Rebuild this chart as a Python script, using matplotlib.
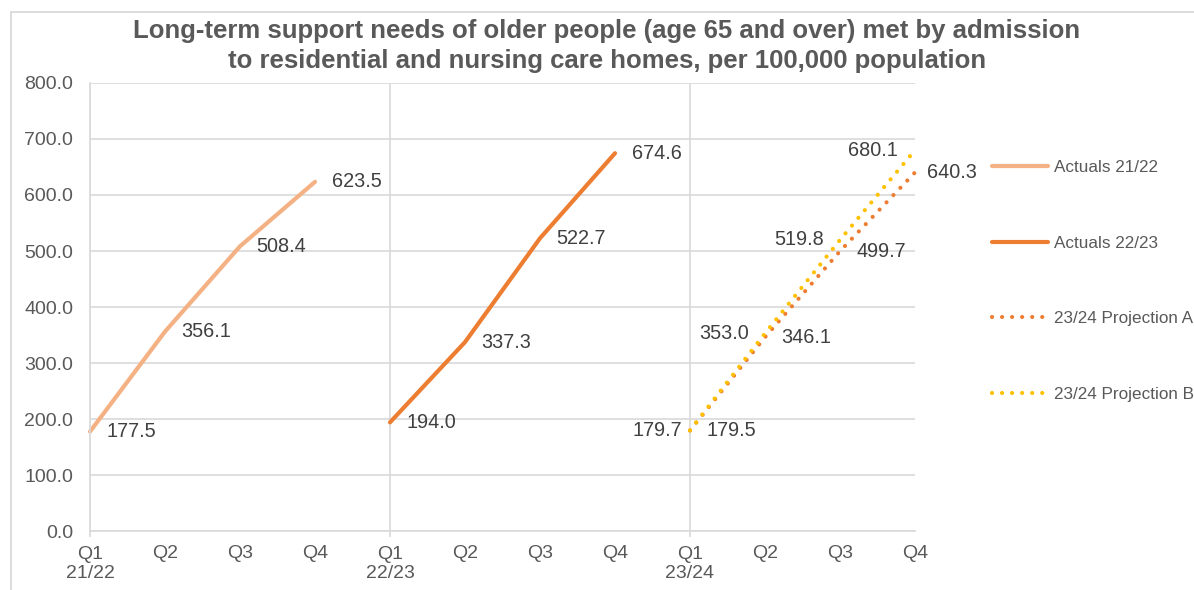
import matplotlib
matplotlib.use('Agg')
import matplotlib.pyplot as plt
from matplotlib.patches import Rectangle
from matplotlib.ticker import FixedLocator, FuncFormatter

plt.rcParams['font.family'] = ['Liberation Sans', 'DejaVu Sans']

# data
quarters = ['Q1', 'Q2', 'Q3', 'Q4']
years = ['21/22', '22/23', '23/24']
actuals_2122 = [177.5, 356.1, 508.4, 623.5]
actuals_2223 = [194.0, 337.3, 522.7, 674.6]
proj_a = [179.5, 346.1, 499.7, 640.3]
proj_b = [179.7, 353.0, 519.8, 680.1]

TXT = '#595959'
LBL = '#404040'
GRID = '#d9d9d9'

W, H = 1194, 590
fig = plt.figure(figsize=(W / 100, H / 100), dpi=100)
ax = fig.add_axes([90 / W, 1 - 531 / H, 825 / W, 448 / H])

# outer chart frame (runs off the right / bottom of the crop)
fig.add_artist(Rectangle((11 / W, -0.1), 1.2, 1.1 - 12 / H, transform=fig.transFigure,
                         fill=False, edgecolor=GRID, lw=1.3, clip_on=False))

x21 = [0, 1, 2, 3]
x22 = [4, 5, 6, 7]
x23 = [8, 9, 10, 11]

dot = (0, (0.01, 2.4))
l1, = ax.plot(x21, actuals_2122, color='#F4B183', lw=3, solid_capstyle='round',
              clip_on=False, label='Actuals 21/22')
l2, = ax.plot(x22, actuals_2223, color='#ED7D31', lw=3, solid_capstyle='round',
              clip_on=False, label='Actuals 22/23')
l3, = ax.plot(x23, proj_a, color='#ED7D31', lw=3, linestyle=dot, dash_capstyle='round',
              clip_on=False, label='23/24 Projection A')
l4, = ax.plot(x23, proj_b, color='#FFC000', lw=3, linestyle=dot, dash_capstyle='round',
              clip_on=False, label='23/24 Projection B')


def put_labels(xs, vals, side, offs):
    for x, v, d in zip(xs, vals, offs):
        if side == 'r':
            ax.annotate('%.1f' % v, (x, v), xytext=(d, 0), textcoords='offset points',
                        ha='left', va='center', fontsize=14.3, color=LBL, annotation_clip=False)
        else:
            ax.annotate('%.1f' % v, (x, v), xytext=(-d, 0), textcoords='offset points',
                        ha='right', va='center', fontsize=14.3, color=LBL, annotation_clip=False)


put_labels(x21, actuals_2122, 'r', [12, 12, 12, 12])
put_labels(x22, actuals_2223, 'r', [12, 12, 12, 12])
put_labels(x23, proj_a, 'r', [12, 12, 12, 9])
put_labels(x23, proj_b, 'l', [6, 11.5, 11.5, 12])

ax.set_xlim(0, 11)
ax.set_ylim(0, 800)
ax.set_yticks(range(0, 801, 100))
ax.yaxis.set_major_formatter(FuncFormatter(lambda v, p: '%.1f' % v))

# Q1 of each year gets the year underneath and a tick mark
ax.xaxis.set_major_locator(FixedLocator([0, 4, 8]))
ax.set_xticklabels(['Q1\n' + y for y in years])
ax.xaxis.set_minor_locator(FixedLocator([1, 2, 3, 5, 6, 7, 9, 10, 11]))
ax.set_xticklabels([q for y in years for q in quarters[1:]], minor=True)
ax.tick_params(axis='x', which='major', length=4, width=1.2, color=GRID, pad=7,
               labelsize=14, labelcolor=TXT)
ax.tick_params(axis='x', which='minor', length=0, pad=10, labelsize=14, labelcolor=TXT)
ax.tick_params(axis='y', length=0, pad=12, labelsize=14, labelcolor=TXT)
for t in ax.get_xticklabels():
    t.set_linespacing(1.1)

ax.grid(axis='y', color=GRID, lw=1.2)
ax.grid(axis='x', which='major', color=GRID, lw=1.2)
ax.set_axisbelow(True)
for s in ['top', 'right']:
    ax.spines[s].set_visible(False)
for s in ['left', 'bottom']:
    ax.spines[s].set_color(GRID)
    ax.spines[s].set_linewidth(1.2)

fig.text(607 / W, 1 - 19 / H,
         'Long-term support needs of older people (age 65 and over) met by admission\n'
         'to residential and nursing care homes, per 100,000 population',
         ha='center', va='top', fontsize=18.5, fontweight='bold', color=TXT, linespacing=1.33)

ax.legend(handles=[l1, l2, l3, l4], loc='upper left', bbox_to_anchor=(992 / W, 1 - 160 / H),
          bbox_transform=fig.transFigure, frameon=False, borderpad=0, borderaxespad=0,
          handlelength=3.3, handletextpad=0.3, labelspacing=3.55, fontsize=12.3,
          labelcolor=TXT)

fig.savefig('out.png', dpi=100)
